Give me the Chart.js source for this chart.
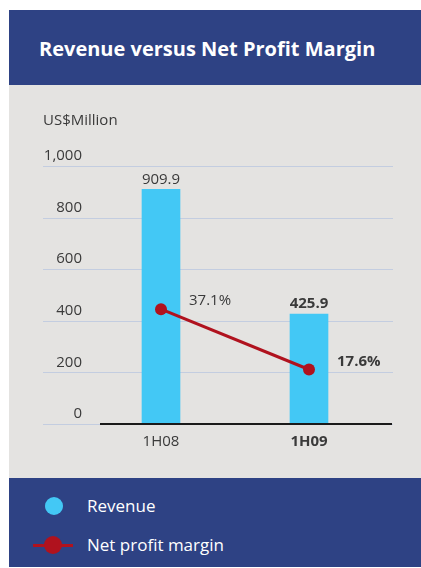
<!DOCTYPE html>
<html>
<head>
<meta charset="utf-8">
<title>Revenue versus Net Profit Margin</title>
<script src="https://cdn.jsdelivr.net/npm/chart.js@4.4.1/dist/chart.umd.min.js"></script>
<style>
    body { margin: 0; background: #fff; font-family: "Open Sans", "Noto Sans", sans-serif; }
    .panel { position: absolute; left: 9px; top: 10px; width: 412px; height: 557px; }
    .head { position: absolute; left: 0; top: 0; width: 412px; height: 75px; background: #2e4284; }
    .head h1 { position: absolute; left: 30px; top: 25px; margin: 0; color: #fff; font-size: 20px; font-weight: 700; line-height: 28px; }
    .body { position: absolute; left: 0; top: 75px; width: 412px; height: 393px; background: #e4e3e1; }
    .foot { position: absolute; left: 0; top: 468px; width: 412px; height: 89px; background: #2e4284; color: #fff; }
    .row { position: absolute; left: 0; height: 24px; font-size: 17px; line-height: 24px; }
    .row span { position: absolute; left: 78px; top: 0; white-space: nowrap; }
    .dot { position: absolute; width: 18px; height: 18px; border-radius: 50%; }
    .bar-key { left: 36px; top: 3px; background: #43c8f5; }
    .line-key { position: absolute; left: 24px; top: 11px; width: 40px; height: 3px; background: #b0121e; }
    .line-dot { left: 35px; top: 3px; background: #b0121e; }
</style>
</head>
<body>
<div class="panel">
    <div class="head"><h1>Revenue versus Net Profit Margin</h1></div>
    <div class="body"><canvas id="revenueChart" width="412" height="393"></canvas></div>
    <div class="foot">
        <div class="row" style="top:16px"><div class="dot bar-key"></div><span>Revenue</span></div>
        <div class="row" style="top:55px"><div class="line-key"></div><div class="dot line-dot"></div><span>Net profit margin</span></div>
    </div>
</div>

<script>
// half-year periods
const periods = ['1H08', '1H09'];
// revenue, US$ million
const revenue = [909.9, 425.9];
// net profit margin, %
const netMargin = [37.1, 17.6];
// revenue axis ticks
const revenueTicks = [0, 200, 400, 600, 800, 1000];
// latest period is printed in bold
const highlight = [false, true];

const FONT = '"Open Sans", "Noto Sans", sans-serif';
const TEXT_COLOR = '#3a3a3a';
const BAR_COLOR = '#43c8f5';
const LINE_COLOR = '#b0121e';

window.addEventListener('DOMContentLoaded', function() {
    createRevenueChart();
});

function fontFor(index, size) {
    return (highlight[index] ? '700 ' : '400 ') + size + 'px ' + FONT;
}

// grid lines, base line and value labels drawn on top of the chart
const decorations = {
    id: 'decorations',
    beforeDatasetsDraw(chart) {
        const ctx = chart.ctx;
        const y = chart.scales.y;
        ctx.save();
        ctx.strokeStyle = '#c3cde0';
        ctx.lineWidth = 1.2;
        revenueTicks.forEach(v => {
            const py = Math.round(y.getPixelForValue(v)) + 0.5;
            ctx.beginPath();
            ctx.moveTo(34, py);
            ctx.lineTo(384, py);
            ctx.stroke();
        });
        // unit caption
        ctx.fillStyle = TEXT_COLOR;
        ctx.font = '400 15px ' + FONT;
        ctx.textBaseline = 'middle';
        ctx.textAlign = 'left';
        ctx.fillText('US$Million', 34, 36);
        ctx.restore();
    },
    afterDatasetsDraw(chart) {
        const ctx = chart.ctx;
        const y = chart.scales.y;
        ctx.save();

        // base line
        const base = y.getPixelForValue(0);
        ctx.strokeStyle = '#1a1a1a';
        ctx.lineWidth = 2;
        ctx.beginPath();
        ctx.moveTo(91, base);
        ctx.lineTo(383, base);
        ctx.stroke();

        ctx.fillStyle = TEXT_COLOR;
        ctx.textBaseline = 'middle';

        // revenue values above bars
        chart.getDatasetMeta(0).data.forEach((bar, i) => {
            ctx.font = fontFor(i, 15);
            ctx.textAlign = 'center';
            ctx.fillText(revenue[i].toFixed(1), bar.x, bar.y - 10);
        });

        // margin values beside points
        chart.getDatasetMeta(1).data.forEach((pt, i) => {
            ctx.font = fontFor(i, 15);
            ctx.textAlign = 'left';
            ctx.fillText(netMargin[i].toFixed(1) + '%', pt.x + 28, pt.y - 8);
        });
        ctx.restore();
    }
};

function createRevenueChart() {
    const canvas = document.getElementById('revenueChart');
    if (!canvas) {
        console.error('revenueChart canvas not found');
        return;
    }

    new Chart(canvas, {
        type: 'bar',
        data: {
            labels: periods,
            datasets: [{
                type: 'bar',
                label: 'Revenue',
                data: revenue,
                backgroundColor: BAR_COLOR,
                barThickness: 38,
                yAxisID: 'y',
                order: 2
            }, {
                type: 'line',
                label: 'Net profit margin',
                data: netMargin,
                borderColor: LINE_COLOR,
                backgroundColor: LINE_COLOR,
                borderWidth: 3,
                pointRadius: 6,
                pointBackgroundColor: LINE_COLOR,
                pointBorderWidth: 0,
                tension: 0,
                yAxisID: 'y2',
                order: 1
            }]
        },
        options: {
            responsive: false,
            animation: false,
            events: [],
            layout: {
                padding: { top: 81, right: 38, bottom: 24, left: 0 }
            },
            plugins: {
                legend: { display: false },
                tooltip: { enabled: false }
            },
            scales: {
                x: {
                    offset: true,
                    grid: { display: false, drawTicks: false },
                    border: { display: false },
                    afterFit: scale => { scale.height = 30; },
                    ticks: {
                        padding: 9,
                        color: TEXT_COLOR,
                        font: ctx => ({ family: FONT, size: 15, weight: highlight[ctx.index] ? '700' : '400' })
                    }
                },
                y: {
                    min: 0,
                    max: 1000,
                    grid: { display: false, drawTicks: false },
                    border: { display: false },
                    afterFit: scale => { scale.width = 78; },
                    afterBuildTicks: scale => {
                        scale.ticks = revenueTicks.map(v => ({ value: v }));
                    },
                    ticks: {
                        padding: 5,
                        labelOffset: -10,
                        color: TEXT_COLOR,
                        font: { family: FONT, size: 15 },
                        callback: v => v.toLocaleString('en-US')
                    }
                },
                // margin scale: 1% = 12 units of the revenue axis
                y2: {
                    display: false,
                    min: 0,
                    max: 1000 / 12
                }
            }
        },
        plugins: [decorations]
    });
}
</script>
</body>
</html>
